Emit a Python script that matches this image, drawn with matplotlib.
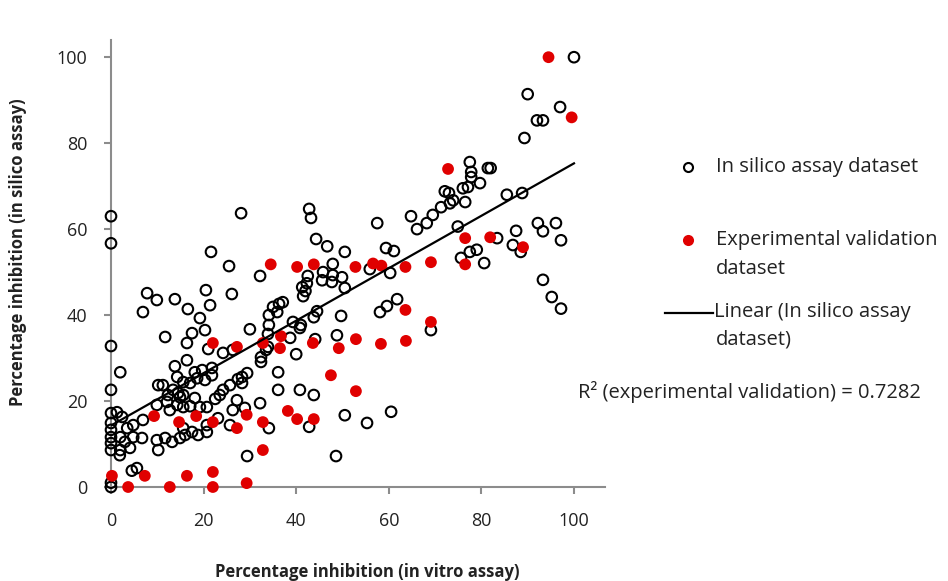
import matplotlib
matplotlib.use('Agg')
import matplotlib.pyplot as plt
from matplotlib.lines import Line2D
import numpy as np

plt.rcParams['font.family'] = ['Open Sans', 'DejaVu Sans']

# in silico assay dataset (x = in vitro, y = in silico)
silico_x = [0, 0, 0, 0, 0, 0, 0, 0, 0, 0, 0, 0,
            2, 1.3, 2.4, 2, 2, 1.9, 3, 3.5, 4.8, 4.8, 4.1, 6.9, 6.7, 4.5, 5.6, 7.8, 6.9,
            9.9, 9.9, 10.2, 11.7, 9.9, 10.2, 11.2, 11.7, 12.1, 12.3, 12.7, 13.8,
            13.2, 14.9, 14.3, 14.3, 13.8, 14.9, 15.6, 15.6, 14.5, 13.4, 15.6, 16, 15.6, 16.4, 16.4, 16.6,
            17.5, 17.1, 18.1, 18.6, 17.1, 18.1, 17.5, 18.8, 19.2, 19.2, 19.7, 20.3, 20.3, 20.7, 20.5, 20.7, 20.7,
            21.4, 21, 21.8, 21.8, 21.6, 22.5, 23.5, 24.2, 23.1, 24.2, 25.7, 25.5, 25.7,
            26.1, 26.3, 26.3, 27.2, 27.4, 28.1, 28.3, 28.3, 28.9, 29.4, 29.4, 30,
            32.2, 32.2, 32.4, 32.4, 33.5, 33.9, 33.9, 34.1, 34.1, 34.1, 35, 35.9,
            36.3, 37.1, 36.1, 36.1, 38.7, 39.3, 40,
            41, 40.8, 40.8, 41.3, 42.0, 41.5, 42.3, 42.5, 42.8, 43.2, 42.8, 43.8, 44.5, 44.1, 43.8, 44.3,
            45.6, 45.8, 46.7, 47.7, 47.9, 47.9, 48.8, 48.6, 49.9, 49.7,
            50.5, 50.5, 50.5, 55.3, 55.9,
            57.5, 58.1, 59.6, 59.4, 61.1, 60.3, 61.8, 60.5,
            64.8, 66.1, 68.2, 69.5, 69.1,
            71.3, 72.1, 73, 73.9, 73.2, 74.9, 75.6, 76, 77.1, 76.5, 77.5, 77.8, 77.8, 77.5, 79, 79.7, 80.6,
            81.4, 82, 83.4, 85.5, 86.8, 87.5, 88.8, 88.5, 89.3, 90,
            92, 93.3, 92.2, 93.3, 96.1, 97.2, 93.3, 95.2, 97.2, 97, 100]
silico_y = [63, 56.7, 32.8, 22.6, 17.2, 14.9, 13.3, 11.6, 10.2, 8.6, 1.0, 0,
            26.7, 17.4, 16.3, 11.6, 8.6, 7.4, 10.5, 13.7, 14.4, 11.6, 9.1, 15.6, 11.4, 3.8, 4.4, 45.1, 40.7,
            43.5, 10.9, 8.6, 11.4, 19.1, 23.7, 23.7, 34.9, 19.8, 21.4, 17.9, 43.7,
            10.5, 11.4, 19.1, 25.6, 28.1, 20.9, 21.4, 24.4, 21.9, 22.6, 13.7, 12.1, 18.6, 29.5, 33.5, 41.4,
            35.8, 24.2, 26.7, 25.3, 18.8, 20.7, 12.8, 12.1, 18.6, 39.3, 27.2, 24.9, 36.5, 18.6, 45.8, 12.8, 14.4,
            42.3, 32.1, 26, 27.7, 54.7, 20.5, 21.4, 22.6, 16, 31.2, 23.7, 51.4, 14.4,
            44.9, 31.9, 17.9, 20.2, 25.1, 63.7, 24.2, 25.6, 18.4, 26.5, 7.2, 36.7,
            49.1, 19.5, 29.1, 30.2, 31.9, 32.6, 35.6, 37.7, 40, 13.7, 41.9, 40.7,
            42.6, 43, 26.7, 22.6, 34.7, 38.4, 30.9,
            37.7, 37, 22.6, 46.5, 45.6, 44.4, 47.4, 49.1, 64.7, 62.6, 14, 39.5, 40.9, 34.4, 21.4, 57.7,
            48.1, 50, 56, 47.7, 49.3, 51.9, 35.3, 7.2, 48.8, 39.8,
            54.7, 46.3, 16.7, 14.9, 50.7,
            61.4, 40.7, 42.1, 55.6, 54.9, 49.8, 43.7, 17.5,
            63, 60, 61.4, 63.3, 36.5,
            65.1, 68.8, 68.4, 66.7, 66, 60.6, 53.3, 69.5, 69.8, 66.3, 75.6, 73.3, 72.1, 54.7, 55.2, 70.7, 52.1,
            74.2, 74.2, 57.9, 68, 56.3, 59.6, 68.4, 54.7, 81.2, 91.4,
            85.3, 85.3, 61.4, 59.5, 61.4, 57.4, 48.2, 44.2, 41.5, 88.4, 100]

# experimental validation dataset
exp_x = [0.2, 3.7, 7.3, 9.3, 12.7, 14.7, 16.4, 18.4, 22, 22, 22, 22,
         27.2, 27.2, 29.3, 29.3, 32.8, 32.8, 32.8, 34.5, 36.7, 36.5, 38.2,
         40.2, 40.2, 43.8, 43.6, 43.8, 47.5, 49.2, 52.8, 52.9, 52.9,
         56.6, 58.4, 58.3, 63.6, 63.6, 63.7, 69.1, 69.1, 72.8, 76.5, 76.5,
         81.9, 89, 94.5, 99.5]
exp_y = [2.6, 0, 2.6, 16.5, 0, 15.1, 2.6, 16.5, 33.5, 15.1, 3.5, 0,
         32.6, 13.7, 16.8, 0.9, 33.5, 15.1, 8.6, 51.8, 35.1, 32.3, 17.7,
         51.2, 15.8, 51.8, 33.5, 15.8, 26, 32.3, 51.2, 34.4, 22.3,
         52, 51.5, 33.3, 51.2, 41.2, 34, 52.3, 38.4, 74, 57.9, 51.8,
         58.1, 55.8, 100, 86]

# linear trend of the in silico dataset
trend_intercept = 14.3
trend_slope = 0.61
r2_exp = 0.7282

ticks = [0, 20, 40, 60, 80, 100]
grey = '#8c8c8c'
txt = '#222222'

W, H = 948, 581
fig = plt.figure(figsize=(W / 100, H / 100), dpi=100)
ax = fig.add_axes([111 / W, 1 - 487 / H, (605 - 111) / W, (487 - 40) / H])

ax.scatter(silico_x, silico_y, s=58, facecolors='none', edgecolors='black',
           linewidths=1.5, clip_on=False, zorder=3)
ax.scatter(exp_x, exp_y, s=72, color='#e00000', edgecolors='none',
           clip_on=False, zorder=4)
xx = np.array([0, 100])
ax.plot(xx, trend_intercept + trend_slope * xx, color='black', lw=1.6, zorder=5)

ax.set_xlim(0, 106.7)
ax.set_ylim(0, 104)
ax.set_xticks(ticks)
ax.set_yticks(ticks)
for s in ['top', 'right']:
    ax.spines[s].set_visible(False)
for s in ['left', 'bottom']:
    ax.spines[s].set_color(grey)
    ax.spines[s].set_linewidth(1.5)
ax.tick_params(direction='out', length=5, width=1.5, color=grey,
               labelcolor=txt, labelsize=13)
ax.tick_params(axis='x', pad=13)
ax.tick_params(axis='y', pad=12)

# axis titles
fig.text(367 / W, 1 - 572 / H, 'Percentage inhibition (in vitro assay)',
         ha='center', va='center', fontweight='bold', fontsize=12, color=txt)
fig.text(18 / W, 1 - 252 / H, 'Percentage inhibition (in silico assay)',
         ha='center', va='center', rotation=90, fontweight='bold', fontsize=12, color=txt)

# legend, drawn by hand like the Excel one
fig.add_artist(Line2D([688 / W], [1 - 167 / H], marker='o', ms=6.5, mfc='none',
                      mec='black', mew=1.5, linestyle='none'))
fig.add_artist(Line2D([688 / W], [1 - 240 / H], marker='o', ms=8, mfc='#e00000',
                      mec='none', linestyle='none'))
fig.add_artist(Line2D([665 / W, 713 / W], [1 - 313 / H, 1 - 313 / H],
                      color='black', lw=1.6))

lfs = 14.5
fig.text(716 / W, 1 - 167 / H, 'In silico assay dataset', va='center', fontsize=lfs, color=txt)
fig.text(716 / W, 1 - 240 / H, 'Experimental validation', va='center', fontsize=lfs, color=txt)
fig.text(716 / W, 1 - 269 / H, 'dataset', va='center', fontsize=lfs, color=txt)
fig.text(714 / W, 1 - 312 / H, 'Linear (In silico assay', va='center', fontsize=lfs, color=txt)
fig.text(716 / W, 1 - 339 / H, 'dataset)', va='center', fontsize=lfs, color=txt)
fig.text(578 / W, 1 - 392 / H, 'R\u00b2 (experimental validation) = %.4f' % r2_exp,
         va='center', fontsize=lfs, color=txt)

fig.savefig('out.png', dpi=100)
